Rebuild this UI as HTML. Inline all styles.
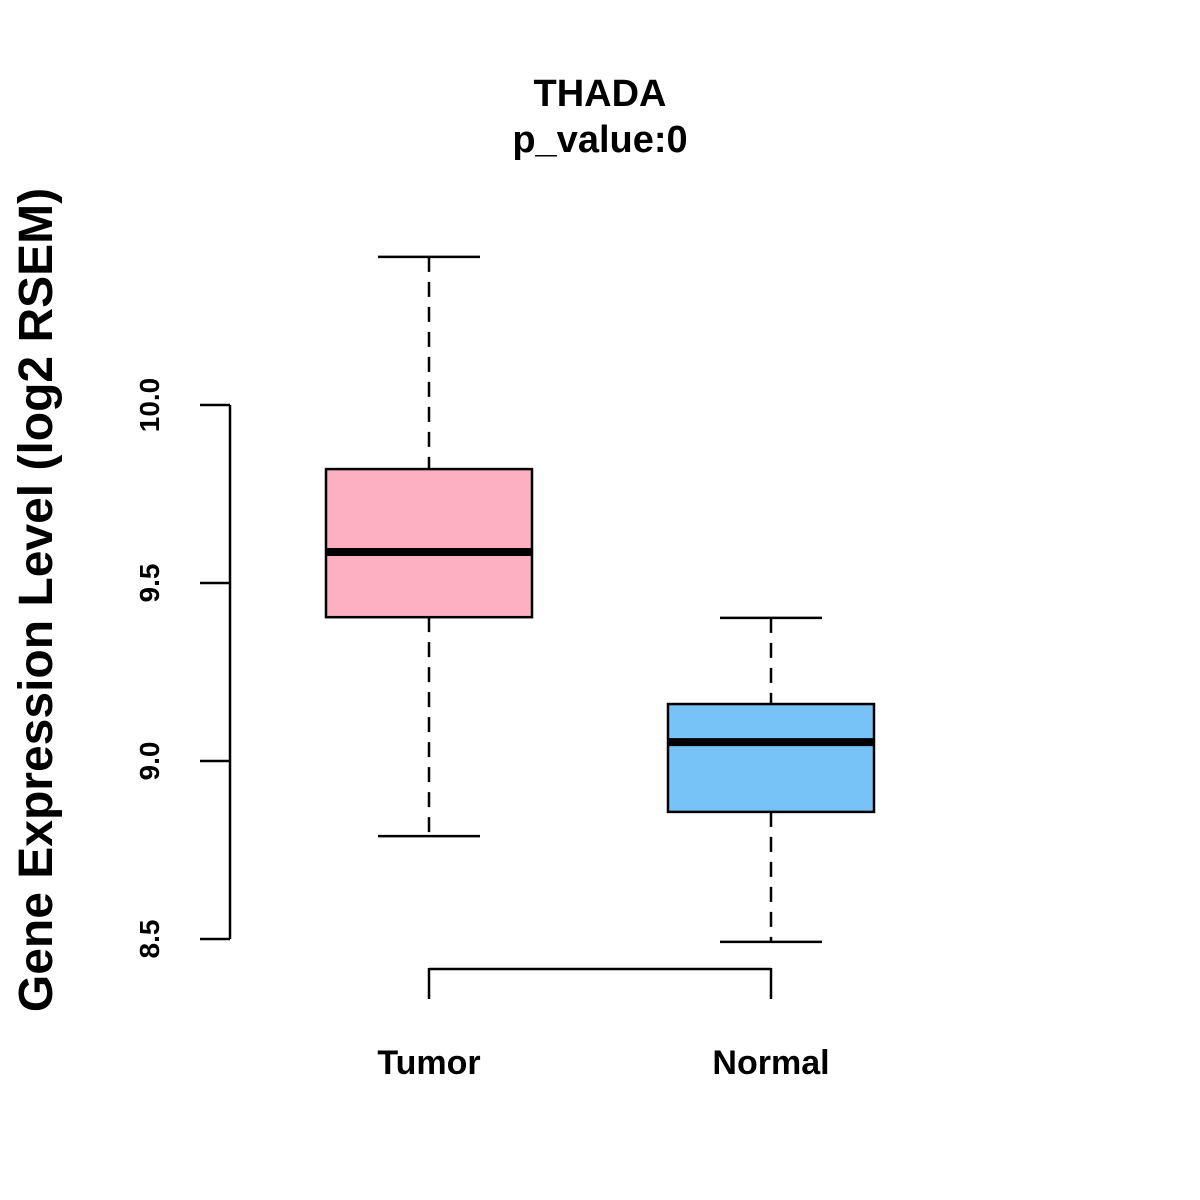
<!DOCTYPE html>
<html><head><meta charset="utf-8"><style>
html,body{margin:0;padding:0;background:#fff;}
svg{display:block;font-family:"Liberation Sans",Arial,sans-serif;font-weight:bold;}
</style></head><body>
<svg id="chart" width="1200" height="1200">
<text x="600" y="106" font-size="38" text-anchor="middle">THADA</text>
<text x="600" y="152" font-size="38" text-anchor="middle">p_value:0</text>
<text transform="translate(52,600) rotate(-90)" font-size="48" text-anchor="middle">Gene Expression Level (log2 RSEM)</text>
<g id="yaxis"></g>
<g id="xaxis"></g>
<g id="boxes"></g>
</svg>
<script>
const categories = ["Tumor", "Normal"];
const whiskerHigh = [10.416, 9.402];
const q3 = [9.820, 9.160];
const median = [9.587, 9.053];
const q1 = [9.404, 8.857];
const whiskerLow = [8.789, 8.492];
const colors = ["#FCB0C2", "#77C3F8"];
const yTicks = [8.5, 9.0, 9.5, 10.0];
const yTickLabels = ["8.5", "9.0", "9.5", "10.0"];

const NS = "http://www.w3.org/2000/svg";
function y(v){ return 405 + (10 - v) * 356; }
function x(i){ return 429 + i * 342; }
function mk(parent, tag, attrs){
  const e = document.createElementNS(NS, tag);
  for (const k in attrs) e.setAttribute(k, attrs[k]);
  parent.appendChild(e); return e;
}
const ya = document.getElementById("yaxis");
const xa = document.getElementById("xaxis");
const bx = document.getElementById("boxes");

const yl = mk(ya, "line", {x1:230, x2:230, y1:y(yTicks[yTicks.length-1]), y2:y(yTicks[0]), stroke:"#000", "stroke-width":2.5});


yTicks.forEach((t, i) => {
  const tk = mk(ya, "line", {x1:200, x2:230, y1:y(t), y2:y(t), stroke:"#000", "stroke-width":2.5});
  
  
  const tl = mk(ya, "text", {transform:`translate(159,${y(t)}) rotate(-90)`, "font-size":28, "text-anchor":"middle"});
  tl.textContent = yTickLabels[i];
  
  
});

const xl = mk(xa, "line", {x1:x(0), x2:x(categories.length-1), y1:969, y2:969, stroke:"#000", "stroke-width":2.5});


categories.forEach((c, i) => {
  const tk = mk(xa, "line", {x1:x(i), x2:x(i), y1:968, y2:999, stroke:"#000", "stroke-width":2.5});
  
  
  const tl = mk(xa, "text", {x:x(i), y:1074, "font-size":34, "text-anchor":"middle"});
  tl.textContent = c;
  
  
});

categories.forEach((c, i) => {
  const cx = x(i);
  const g = mk(bx, "g", {});
  
  
  const w1 = mk(g, "line", {x1:cx, x2:cx, y1:y(whiskerHigh[i]), y2:y(q3[i]), stroke:"#000", "stroke-width":2.5, "stroke-dasharray":"15,10"});
  
  
  const w2 = mk(g, "line", {x1:cx, x2:cx, y1:y(q1[i]), y2:y(whiskerLow[i]), stroke:"#000", "stroke-width":2.5, "stroke-dasharray":"15,10"});
  
  
  const c1 = mk(g, "line", {x1:cx-51, x2:cx+51, y1:y(whiskerHigh[i]), y2:y(whiskerHigh[i]), stroke:"#000", "stroke-width":2.5});
  
  
  const c2 = mk(g, "line", {x1:cx-51, x2:cx+51, y1:y(whiskerLow[i]), y2:y(whiskerLow[i]), stroke:"#000", "stroke-width":2.5});
  
  
  const r = mk(g, "rect", {x:cx-103, y:y(q3[i]), width:206, height:y(q1[i])-y(q3[i]), fill:colors[i], stroke:"#000", "stroke-width":2.5});
  
  
  const m = mk(g, "line", {x1:cx-102, x2:cx+102, y1:y(median[i]), y2:y(median[i]), stroke:"#000", "stroke-width":8});
  
  
});
</script>
</body></html>
